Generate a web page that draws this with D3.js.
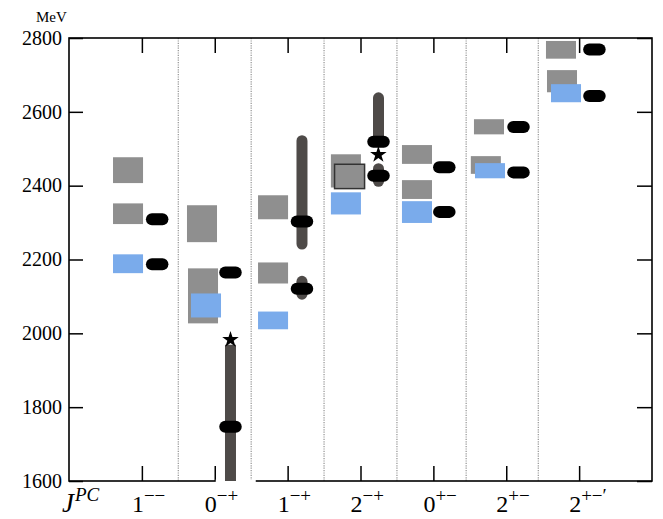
<!DOCTYPE html>
<html>
<head>
<meta charset="utf-8">
<script src="https://cdn.jsdelivr.net/npm/d3@7"></script>
<style>
  html, body { margin: 0; padding: 0; background: #fff; }
  svg { display: block; }
  text { font-family: "Liberation Serif", "DejaVu Serif", serif; fill: #000; }
</style>
</head>
<body>
<svg id="chart" width="663" height="519"></svg>
<script>
// ---------- data ----------
const labelBase = ["1", "0", "1", "2", "0", "2", "2"];
const labelSup  = ["\u2212\u2212", "\u2212+", "\u2212+", "\u2212+", "+\u2212", "+\u2212", "+\u2212\u2032"];
const yTicks = [1600, 1800, 2000, 2200, 2400, 2600, 2800];
const separators = [1.5, 2.5, 3.5, 4.5, 5.45, 6.44];

// lattice results (gray): slot, mass low, mass high (MeV)
const grayBoxes = [
  { x: 0.81,  lo: 2407, hi: 2477 },
  { x: 0.81,  lo: 2296, hi: 2352 },
  { x: 1.825, lo: 2247, hi: 2347 },
  { x: 1.839, lo: 2027, hi: 2176 },
  { x: 2.80,  lo: 2309, hi: 2374 },
  { x: 2.80,  lo: 2135, hi: 2192 },
  { x: 3.80,  lo: 2395, hi: 2485 },
  { x: 4.775, lo: 2459, hi: 2510 },
  { x: 4.775, lo: 2364, hi: 2415 },
  { x: 5.763, lo: 2539, hi: 2580 },
  { x: 5.72,  lo: 2432, hi: 2480 },
  { x: 6.751, lo: 2744, hi: 2792 },
  { x: 6.765, lo: 2653, hi: 2713 }
];
const outlinedBoxes = [
  { x: 3.85, lo: 2392, hi: 2458 }
];
// blue results
const blueBoxes = [
  { x: 0.81,  lo: 2163, hi: 2214 },
  { x: 1.88,  lo: 2043, hi: 2108 },
  { x: 2.80,  lo: 2011, hi: 2059 },
  { x: 3.80,  lo: 2322, hi: 2382 },
  { x: 4.775, lo: 2299, hi: 2358 },
  { x: 5.777, lo: 2420, hi: 2461 },
  { x: 6.82,  lo: 2626, hi: 2675 }
];
// predictions (black pills)
const pills = [
  { x: 1.21,  m: 2309 }, { x: 1.21,  m: 2187 },
  { x: 2.216, m: 2165 }, { x: 2.216, m: 1747 },
  { x: 3.197, m: 2303 }, { x: 3.197, m: 2121 },
  { x: 4.247, m: 2519 }, { x: 4.247, m: 2427 },
  { x: 5.15,  m: 2450 }, { x: 5.15,  m: 2329 },
  { x: 6.168, m: 2559 }, { x: 6.168, m: 2436 },
  { x: 7.21,  m: 2769 }, { x: 7.21,  m: 2643 }
];
// dark ranges
const darkBars = [
  { x: 2.216, lo: 1600, hi: 1969, round: false },
  { x: 3.197, lo: 2242, hi: 2522, round: true },
  { x: 3.197, lo: 2106, hi: 2141, round: true },
  { x: 4.247, lo: 2519, hi: 2638, round: true },
  { x: 4.247, lo: 2412, hi: 2446, round: true }
];
const stars = [
  { x: 2.216, m: 1983 },
  { x: 4.245, m: 2484 }
];

// ---------- layout ----------
const L = 69, R = 652, T = 38, B = 481;
const x = d3.scaleLinear().domain([0, 8]).range([L, R]);
const y = d3.scaleLinear().domain([1600, 2800]).range([B, T]);
const boxW = x(0.412) - x(0);

const svg = d3.select("#chart");
const GRAY = "#8f8f8f", BLUE = "#7aabeb", DARK = "#4e4a48";

// separators
svg.append("g").selectAll("line").data(separators).join("line")
  .attr("x1", d => x(d)).attr("x2", d => x(d))
  .attr("y1", T).attr("y2", B)
  .attr("stroke", "#9a9a9a").attr("stroke-width", 1.3)
  .attr("stroke-dasharray", "1.2,1.2");

// ticks (inward) via axes
const catTicks = d3.range(1, 8);
svg.append("g").attr("transform", `translate(0,${B})`)
  .call(d3.axisTop(x).tickValues(catTicks).tickSize(15).tickFormat(""))
  .call(g => g.select(".domain").remove());
svg.append("g").attr("transform", `translate(0,${T})`)
  .call(d3.axisBottom(x).tickValues(catTicks).tickSize(15).tickFormat(""))
  .call(g => g.select(".domain").remove());
svg.append("g").attr("transform", `translate(${L},0)`)
  .call(d3.axisRight(y).tickValues(yTicks).tickSize(14).tickFormat(""))
  .call(g => g.select(".domain").remove());
svg.append("g").attr("transform", `translate(${R},0)`)
  .call(d3.axisLeft(y).tickValues(yTicks).tickSize(15).tickFormat(""))
  .call(g => g.select(".domain").remove());
svg.selectAll(".tick line").attr("stroke", "#000").attr("stroke-width", 1.5);

// frame
svg.append("rect").attr("x", L).attr("y", T).attr("width", R - L).attr("height", B - T)
  .attr("fill", "none").attr("stroke", "#000").attr("stroke-width", 1.6);
// white gap in the bottom frame line (as in the original figure)
svg.append("rect").attr("x", x(2) + 1).attr("y", B - 1.5).attr("width", 40).attr("height", 4)
  .attr("fill", "#fff");

// y tick labels
svg.append("g").selectAll("text").data(yTicks).join("text")
  .attr("x", L - 7).attr("y", d => y(d)).attr("dy", "0.34em")
  .attr("text-anchor", "end").attr("font-size", 20)
  .text(d => d);
svg.append("text").attr("x", 36).attr("y", 22).attr("font-size", 15).text("MeV");

// gray boxes
svg.append("g").selectAll("rect").data(grayBoxes).join("rect")
  .attr("x", d => x(d.x) - boxW / 2).attr("width", boxW)
  .attr("y", d => y(d.hi)).attr("height", d => y(d.lo) - y(d.hi))
  .attr("fill", GRAY);
svg.append("g").selectAll("rect").data(outlinedBoxes).join("rect")
  .attr("x", d => x(d.x) - boxW / 2).attr("width", boxW)
  .attr("y", d => y(d.hi)).attr("height", d => y(d.lo) - y(d.hi))
  .attr("fill", GRAY).attr("stroke", "#333").attr("stroke-width", 1.5);
svg.append("g").selectAll("rect").data(blueBoxes).join("rect")
  .attr("x", d => x(d.x) - boxW / 2).attr("width", boxW)
  .attr("y", d => y(d.hi)).attr("height", d => y(d.lo) - y(d.hi))
  .attr("fill", BLUE);

// dark bars
svg.append("g").selectAll("line").data(darkBars).join("line")
  .attr("x1", d => x(d.x)).attr("x2", d => x(d.x))
  .attr("y1", d => y(d.lo)).attr("y2", d => y(d.hi))
  .attr("stroke", DARK).attr("stroke-width", 11)
  .attr("stroke-linecap", d => d.round ? "round" : "butt");

// pills
const pw = 22.5, ph = 12;
svg.append("g").selectAll("rect").data(pills).join("rect")
  .attr("x", d => x(d.x) - pw / 2).attr("y", d => y(d.m) - ph / 2)
  .attr("width", pw).attr("height", ph).attr("rx", 6).attr("ry", 6)
  .attr("fill", "#000");

// stars
svg.append("g").selectAll("path").data(stars).join("path")
  .attr("transform", d => `translate(${x(d.x)},${y(d.m)})`)
  .attr("d", d3.symbol(d3.symbolStar, 85))
  .attr("fill", "#000");

// category labels
const lab = svg.append("g").selectAll("text").data(labelBase).join("text")
  .attr("x", (d, i) => x(i + 1) - 10).attr("y", 512)
  .attr("font-size", 24);
lab.append("tspan").text(d => d);
lab.append("tspan").attr("dy", -10).attr("font-size", 19).text((d, i) => labelSup[i]);

const jpc = svg.append("text").attr("x", 62).attr("y", 512)
  .attr("font-size", 27).attr("font-style", "italic");
jpc.append("tspan").text("J");
jpc.append("tspan").attr("dy", -11).attr("font-size", 19).attr("dx", 1).text("PC");
</script>
</body>
</html>
